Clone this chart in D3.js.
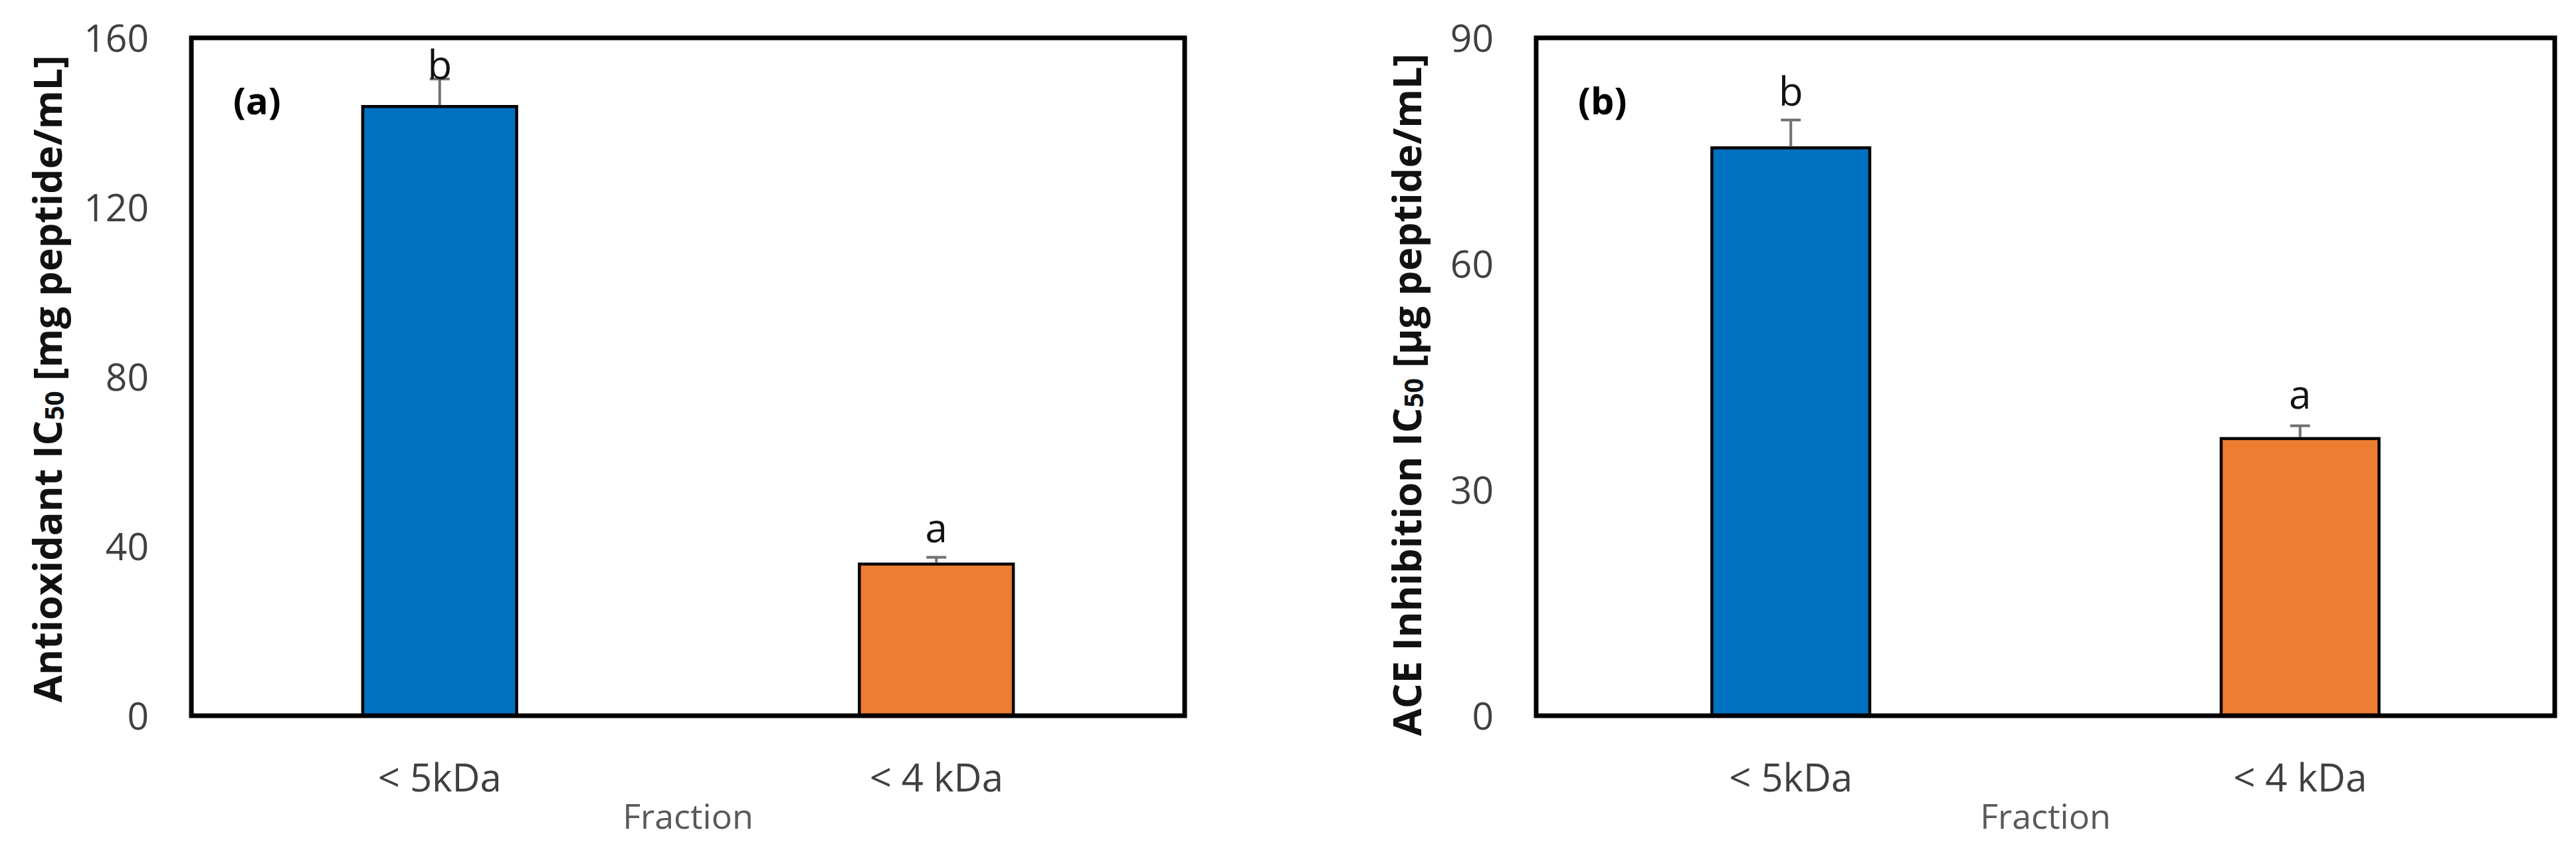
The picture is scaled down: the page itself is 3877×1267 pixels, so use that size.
<!DOCTYPE html>
<html>
<head>
<meta charset="utf-8">
<script src="https://cdn.jsdelivr.net/npm/d3@7"></script>
<style>
  html, body { margin: 0; padding: 0; background: #fff; }
  text { font-family: "Open Sans", "Noto Sans", sans-serif; }
</style>
</head>
<body>
<svg id="chart"></svg>
<script>
// values
const fractions = ['< 5kDa', '< 4 kDa']
const antioxidantIC50 = [143.8, 35.8]
const antioxidantErr = [6.5, 1.6]
const antioxidantLetters = ['b', 'a']
const antioxidantTicks = [0, 40, 80, 120, 160]
const aceIC50 = [75.4, 36.8]
const aceErr = [3.7, 1.7]
const aceLetters = ['b', 'a']
const aceTicks = [0, 30, 60, 90]
const barColors = ['#0070C0', '#ED7D31']

const W = 3877, H = 1267

let svg = d3.select('#chart')
    .attr('width', W)
    .attr('height', H)
    .attr('viewBox', `0 0 ${W} ${H}`)

let panels = [
    {
        tag: '(a)',
        values: antioxidantIC50,
        errors: antioxidantErr,
        letters: antioxidantLetters,
        letterGap: [0, 23],
        ticks: antioxidantTicks,
        titleMain: 'Antioxidant IC',
        titleEnd: ' [mg peptide/mL]',
        titleX: 69, titleY: 570, titleLen: 974,
        x0: 288, x1: 1783, y0: 57, y1: 1077,
    },
    {
        tag: '(b)',
        values: aceIC50,
        errors: aceErr,
        letters: aceLetters,
        letterGap: [22, 26],
        ticks: aceTicks,
        titleMain: 'ACE Inhibition IC',
        titleEnd: ' [µg peptide/mL]',
        titleX: 2115, titleY: 594, titleLen: 1027,
        x0: 2312, x1: 3845, y0: 57, y1: 1077,
    },
]

function drawPanel(p) {
    let g = svg.append('g')

    let x = d3.scaleBand()
        .domain(fractions)
        .range([p.x0, p.x1])
        .paddingInner(0.69)
        .paddingOuter(0.345)

    let y = d3.scaleLinear()
        .domain([p.ticks[0], p.ticks[p.ticks.length - 1]])
        .range([p.y1, p.y0])

    let rows = fractions.map((f, i) => ({
        name: f, value: p.values[i], err: p.errors[i], letter: p.letters[i], gap: p.letterGap[i], i: i
    }))

    // y tick labels
    let yAxis = g.append('g')
        .attr('transform', `translate(${p.x0 - 64},0)`)
        .call(d3.axisLeft(y).tickValues(p.ticks).tickSize(0).tickPadding(0).tickFormat(d3.format('d')))
    yAxis.select('.domain').remove()
    yAxis.selectAll('text')
        .attr('font-family', '"Open Sans", sans-serif')
        .attr('font-size', 57)
        .attr('fill', '#404040')
        .attr('dy', '0.36em')

    // category labels
    let xAxis = g.append('g')
        .attr('transform', `translate(0,${p.y1 + 93})`)
        .call(d3.axisBottom(x).tickSize(0).tickPadding(0))
    xAxis.select('.domain').remove()
    xAxis.selectAll('text')
        .attr('font-family', '"Open Sans", sans-serif')
        .attr('font-size', 58)
        .attr('fill', '#404040')
        .attr('dy', '0.36em')

    g.append('text')
        .attr('x', (p.x0 + p.x1) / 2)
        .attr('y', p.y1 + 151)
        .attr('dy', '0.36em')
        .attr('text-anchor', 'middle')
        .attr('font-size', 52)
        .attr('fill', '#595959')
        .text('Fraction')

    // bars
    g.selectAll('rect.bar')
        .data(rows)
        .enter().append('rect')
        .attr('class', 'bar')
        .attr('x', d => x(d.name))
        .attr('y', d => y(d.value))
        .attr('width', x.bandwidth())
        .attr('height', d => y(0) - y(d.value))
        .attr('fill', d => barColors[d.i])
        .attr('stroke', '#000')
        .attr('stroke-width', 4.5)

    // error bars (upper only)
    let cx = d => x(d.name) + x.bandwidth() / 2
    g.selectAll('line.err')
        .data(rows)
        .enter().append('line')
        .attr('class', 'err')
        .attr('x1', cx).attr('x2', cx)
        .attr('y1', d => y(d.value) - 2)
        .attr('y2', d => y(d.value + d.err))
        .attr('stroke', '#707070')
        .attr('stroke-width', 4)
    g.selectAll('line.cap')
        .data(rows)
        .enter().append('line')
        .attr('class', 'cap')
        .attr('x1', d => cx(d) - 15).attr('x2', d => cx(d) + 15)
        .attr('y1', d => y(d.value + d.err))
        .attr('y2', d => y(d.value + d.err))
        .attr('stroke', '#707070')
        .attr('stroke-width', 4)

    // significance letters
    g.selectAll('text.letter')
        .data(rows)
        .enter().append('text')
        .attr('class', 'letter')
        .attr('x', cx)
        .attr('y', d => y(d.value + d.err) - d.gap)
        .attr('text-anchor', 'middle')
        .attr('font-size', 60)
        .attr('fill', '#111')
        .text(d => d.letter)

    // plot frame
    g.append('rect')
        .attr('x', p.x0).attr('y', p.y0)
        .attr('width', p.x1 - p.x0).attr('height', p.y1 - p.y0)
        .attr('fill', 'none')
        .attr('stroke', '#000')
        .attr('stroke-width', 7)

    g.append('text')
        .attr('x', p.x0 + 63)
        .attr('y', 172)
        .attr('font-size', 56)
        .attr('font-weight', 700)
        .attr('fill', '#000')
        .text(p.tag)

    // rotated y title with subscript, sized to the reference length
    let title = g.append('text')
        .attr('transform', `translate(${p.titleX},${p.titleY}) rotate(-90)`)
        .attr('text-anchor', 'middle')
        .attr('dominant-baseline', 'central')
        .attr('font-weight', 700)
        .attr('fill', '#111')
    let fs = 60
    function fill(size) {
        title.selectAll('*').remove()
        title.attr('font-size', size)
        title.append('tspan').text(p.titleMain)
        title.append('tspan').attr('font-size', size * 0.65).attr('dy', size * 0.2).text('50')
        title.append('tspan').attr('dy', -size * 0.2).text(p.titleEnd)
    }
    for (let k = 0; k < 3; k++) {
        fill(fs)
        let len = title.node().getComputedTextLength()
        fs = fs * p.titleLen / len
    }
    fill(fs)
}

panels.forEach(drawPanel)
</script>
</body>
</html>
